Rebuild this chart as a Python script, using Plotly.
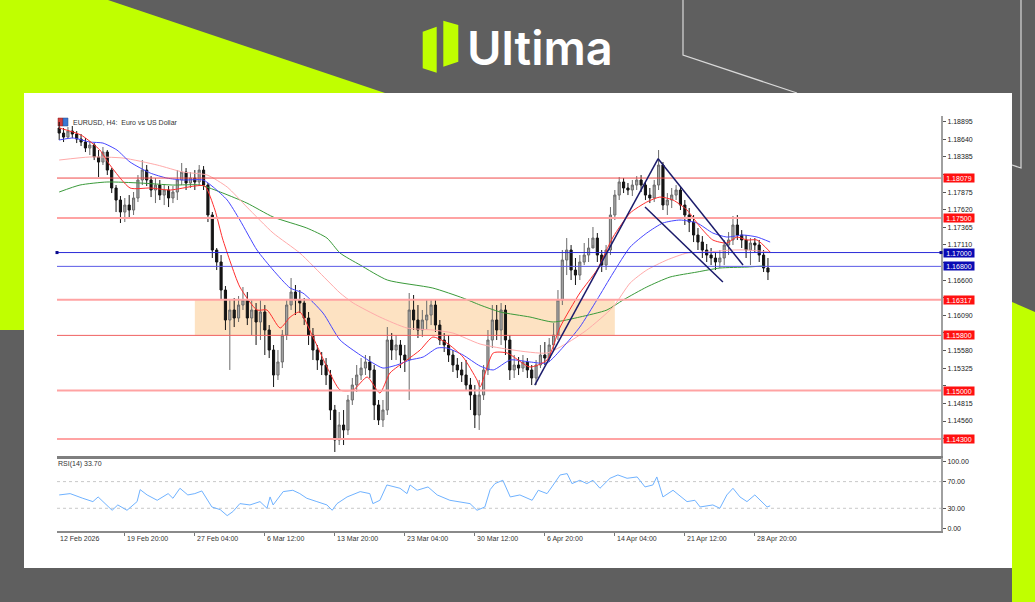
import plotly.graph_objects as go

# ---------------- data (EURUSD H4, shown as 8-hour candles) ----------------
opens = [1.18804, 1.18731, 1.18673, 1.18760, 1.18717, 1.18644, 1.18601, 1.18514, 1.18558, 1.18384,
         1.18311, 1.18456, 1.18195, 1.17935, 1.17761, 1.17587, 1.17688, 1.17616, 1.17790, 1.18051,
         1.18195, 1.18051, 1.17906, 1.17978, 1.17833, 1.17906, 1.17790, 1.17877, 1.18051, 1.18166,
         1.18007, 1.18079, 1.18022, 1.18195, 1.17978, 1.17544, 1.17037, 1.16863, 1.16457, 1.16023,
         1.16168, 1.16052, 1.16240, 1.16313, 1.16052, 1.16168, 1.15994, 1.16139, 1.15878, 1.15588,
         1.15226, 1.15415, 1.15805, 1.16240, 1.16428, 1.16313, 1.16269, 1.16052, 1.15805, 1.15588,
         1.15444, 1.15371, 1.15226, 1.14719, 1.14285, 1.14502, 1.14430, 1.14864, 1.15081, 1.15226,
         1.15327, 1.15415, 1.15299, 1.14792, 1.14574, 1.14719, 1.15733, 1.15588, 1.15661, 1.15516,
         1.15444, 1.16168, 1.16023, 1.15878, 1.16023, 1.16095, 1.16240, 1.15950, 1.15733, 1.15661,
         1.15516, 1.15371, 1.15299, 1.15226, 1.15081, 1.14937, 1.14647, 1.14937, 1.15299, 1.15733,
         1.16023, 1.15878, 1.16168, 1.15733, 1.15299, 1.15371, 1.15327, 1.15415, 1.15299, 1.15183,
         1.15371, 1.15516, 1.15472, 1.15661, 1.15805, 1.16313, 1.16892, 1.17037, 1.16747, 1.16674,
         1.16863, 1.16964, 1.17066, 1.17210, 1.16964, 1.16819, 1.17037, 1.17544, 1.17833, 1.18022,
         1.17935, 1.17906, 1.17978, 1.18051, 1.17978, 1.17833, 1.17790, 1.17978, 1.18268, 1.17688,
         1.17761, 1.17833, 1.17906, 1.17688, 1.17544, 1.17442, 1.17254, 1.17152, 1.17037, 1.16964,
         1.16921, 1.16863, 1.16921, 1.17109, 1.17182, 1.17399, 1.17254, 1.17182, 1.17037, 1.17138,
         1.17109, 1.16964, 1.16776]
closes = [1.18731, 1.18673, 1.18760, 1.18717, 1.18644, 1.18601, 1.18514, 1.18558, 1.18384, 1.18311,
          1.18456, 1.18195, 1.17935, 1.17761, 1.17587, 1.17688, 1.17616, 1.17790, 1.18051, 1.18195,
          1.18051, 1.17906, 1.17978, 1.17833, 1.17906, 1.17790, 1.17877, 1.18051, 1.18166, 1.18007,
          1.18079, 1.18022, 1.18195, 1.17978, 1.17544, 1.17037, 1.16863, 1.16457, 1.16023, 1.16168,
          1.16052, 1.16240, 1.16313, 1.16052, 1.16168, 1.15994, 1.16139, 1.15878, 1.15588, 1.15226,
          1.15415, 1.15805, 1.16240, 1.16428, 1.16313, 1.16269, 1.16052, 1.15805, 1.15588, 1.15444,
          1.15371, 1.15226, 1.14719, 1.14285, 1.14502, 1.14430, 1.14864, 1.15081, 1.15226, 1.15327,
          1.15415, 1.15299, 1.14792, 1.14574, 1.14719, 1.15733, 1.15588, 1.15661, 1.15516, 1.15444,
          1.16168, 1.16023, 1.15878, 1.16023, 1.16095, 1.16240, 1.15950, 1.15733, 1.15661, 1.15516,
          1.15371, 1.15299, 1.15226, 1.15081, 1.14937, 1.14647, 1.14937, 1.15299, 1.15733, 1.16023,
          1.15878, 1.16168, 1.15733, 1.15299, 1.15371, 1.15327, 1.15415, 1.15299, 1.15183, 1.15371,
          1.15516, 1.15472, 1.15661, 1.15805, 1.16313, 1.16892, 1.17037, 1.16747, 1.16674, 1.16863,
          1.16964, 1.17066, 1.17210, 1.16964, 1.16819, 1.17037, 1.17544, 1.17833, 1.18022, 1.17935,
          1.17906, 1.17978, 1.18051, 1.17978, 1.17833, 1.17790, 1.17978, 1.18268, 1.17688, 1.17761,
          1.17833, 1.17906, 1.17688, 1.17544, 1.17442, 1.17254, 1.17152, 1.17037, 1.16964, 1.16921,
          1.16863, 1.16921, 1.17109, 1.17182, 1.17399, 1.17254, 1.17182, 1.17037, 1.17138, 1.17109,
          1.16964, 1.16776, 1.16718]
highs = [1.18891, 1.18804, 1.18818, 1.18833, 1.18760, 1.18717, 1.18659, 1.18615, 1.18586, 1.18485,
         1.18529, 1.18485, 1.18224, 1.17978, 1.17819, 1.17790, 1.17833, 1.17877, 1.18123, 1.18340,
         1.18268, 1.18108, 1.18079, 1.18051, 1.17993, 1.17964, 1.17964, 1.18195, 1.18297, 1.18224,
         1.18166, 1.18195, 1.18268, 1.18253, 1.18007, 1.17587, 1.17066, 1.16964, 1.16515, 1.16313,
         1.16341, 1.16370, 1.16501, 1.16428, 1.16313, 1.16269, 1.16313, 1.16240, 1.15950, 1.15661,
         1.15588, 1.15878, 1.16313, 1.16631, 1.16530, 1.16457, 1.16341, 1.16139, 1.15907, 1.15661,
         1.15559, 1.15472, 1.15299, 1.14792, 1.14690, 1.14719, 1.14937, 1.15183, 1.15371, 1.15472,
         1.15516, 1.15501, 1.15371, 1.14864, 1.14864, 1.15921, 1.15834, 1.15805, 1.15733, 1.15661,
         1.16414, 1.16385, 1.16240, 1.16168, 1.16313, 1.16313, 1.16313, 1.16023, 1.15834, 1.15805,
         1.15588, 1.15472, 1.15415, 1.15444, 1.15183, 1.15081, 1.15154, 1.15371, 1.15878, 1.16240,
         1.16240, 1.16269, 1.16240, 1.15805, 1.15516, 1.15487, 1.15516, 1.15472, 1.15371, 1.15444,
         1.15661, 1.15704, 1.15762, 1.15979, 1.16457, 1.17037, 1.17210, 1.17109, 1.16921, 1.16964,
         1.17138, 1.17210, 1.17370, 1.17283, 1.17037, 1.17109, 1.17659, 1.17906, 1.18094, 1.18079,
         1.18007, 1.18051, 1.18108, 1.18123, 1.18022, 1.17935, 1.18051, 1.18485, 1.18311, 1.17862,
         1.17935, 1.17978, 1.17949, 1.17761, 1.17645, 1.17544, 1.17355, 1.17239, 1.17124, 1.17066,
         1.17008, 1.17037, 1.17182, 1.17297, 1.17529, 1.17544, 1.17326, 1.17254, 1.17210, 1.17210,
         1.17182, 1.17037, 1.16921]
lows = [1.18630, 1.18601, 1.18644, 1.18659, 1.18586, 1.18543, 1.18456, 1.18413, 1.18340, 1.18094,
        1.18268, 1.18123, 1.17862, 1.17587, 1.17428, 1.17442, 1.17500, 1.17544, 1.17732, 1.17978,
        1.17964, 1.17804, 1.17717, 1.17761, 1.17688, 1.17659, 1.17717, 1.17761, 1.17978, 1.17906,
        1.17935, 1.17906, 1.17978, 1.17906, 1.17442, 1.16921, 1.16747, 1.16313, 1.15878, 1.15299,
        1.15921, 1.15994, 1.16168, 1.15950, 1.15805, 1.15661, 1.15733, 1.15516, 1.15472, 1.15052,
        1.15154, 1.15327, 1.15733, 1.16168, 1.16095, 1.16124, 1.15950, 1.15661, 1.15444, 1.15299,
        1.15226, 1.15081, 1.14574, 1.14111, 1.14212, 1.14212, 1.14357, 1.14792, 1.14980, 1.15154,
        1.15226, 1.15183, 1.14574, 1.14502, 1.14473, 1.14647, 1.15444, 1.15444, 1.15327, 1.15270,
        1.14864, 1.15878, 1.15762, 1.15776, 1.15878, 1.15950, 1.15849, 1.15661, 1.15559, 1.15415,
        1.15270, 1.15183, 1.15125, 1.15009, 1.14719, 1.14458, 1.14430, 1.14864, 1.15226, 1.15617,
        1.15733, 1.15661, 1.15516, 1.15154, 1.15183, 1.15226, 1.15270, 1.15183, 1.15081, 1.15081,
        1.15327, 1.15371, 1.15415, 1.15588, 1.15733, 1.16240, 1.16674, 1.16602, 1.16530, 1.16602,
        1.16819, 1.16863, 1.17109, 1.16863, 1.16718, 1.16747, 1.16964, 1.17471, 1.17761, 1.17862,
        1.17833, 1.17819, 1.17906, 1.17877, 1.17761, 1.17717, 1.17732, 1.17906, 1.17616, 1.17544,
        1.17645, 1.17761, 1.17616, 1.17399, 1.17297, 1.17152, 1.17037, 1.16921, 1.16863, 1.16819,
        1.16747, 1.16776, 1.16819, 1.16964, 1.17109, 1.17182, 1.17066, 1.16921, 1.16819, 1.17008,
        1.16863, 1.16718, 1.16602]

# moving averages (read at anchor candles)
ma_red_x = [0, 5, 9.3, 11.6, 16.2, 20.8, 25.4, 31, 33.3, 35.6, 37.3, 39.2, 41.3, 45.2, 47.5, 50.5,
            52.8, 55, 58, 61.2, 64.2, 67.2, 70.4, 73.3, 75.6, 79.5, 82.5, 85.4, 88.6, 92.3, 95.5,
            96.2, 99.2, 102.4, 107.6, 111.5, 114.5, 119, 122.9, 126.6, 130.5, 134.3, 137.3, 140.3,
            143.5, 146.5, 149.4, 152.6, 154.9, 157.2, 159.5, 162.5]
ma_red = [1.18804, 1.18702, 1.18485, 1.18268, 1.17935, 1.17935, 1.17906, 1.17964, 1.17964, 1.17616,
          1.17210, 1.16848, 1.16501, 1.16168, 1.16168, 1.15907, 1.16066, 1.16139, 1.15776, 1.15342,
          1.15009, 1.15009, 1.15197, 1.14965, 1.15255, 1.15444, 1.15588, 1.15776, 1.15689, 1.15487,
          1.15154, 1.15052, 1.15545, 1.15545, 1.15342, 1.15444, 1.15921, 1.16414, 1.16747, 1.17225,
          1.17573, 1.17732, 1.17804, 1.17761, 1.17616, 1.17370, 1.17182, 1.17138, 1.17225, 1.17182,
          1.17182, 1.17008]
ma_blue_x = [0, 3.2, 7, 10, 13.2, 16.2, 20.8, 24.6, 28.3, 32.9, 35.2, 38.4, 41.3, 45.2, 48.9, 52.8,
             55.7, 60.3, 64.2, 68.8, 71.7, 74, 77.2, 80.2, 83.2, 86.4, 88.6, 92.3, 96.2, 99.2, 103.1,
             107.6, 111.5, 115.2, 119, 122.9, 126.6, 130.5, 134.3, 138, 141.9, 145.8, 149.4, 152.6,
             156.3, 159.5, 162.5]
ma_blue = [1.18630, 1.18659, 1.18601, 1.18586, 1.18485, 1.18311, 1.18152, 1.18079, 1.18051, 1.18051,
           1.17949, 1.17761, 1.17471, 1.17037, 1.16747, 1.16486, 1.16414, 1.16124, 1.15733, 1.15516,
           1.15400, 1.15327, 1.15371, 1.15444, 1.15487, 1.15617, 1.15617, 1.15516, 1.15356, 1.15299,
           1.15444, 1.15415, 1.15400, 1.15632, 1.15921, 1.16313, 1.16703, 1.17080, 1.17283, 1.17428,
           1.17471, 1.17428, 1.17283, 1.17225, 1.17254, 1.17225, 1.17152]
ma_pink_x = [0, 7, 14.6, 22.4, 28.3, 33.8, 38.4, 42.9, 48.9, 55, 61.2, 64.2, 67.2, 73.3, 79.5, 85.4,
             90, 96.2, 103.7, 111.5, 116.1, 120.6, 126.6, 130.5, 134.3, 138.9, 143.5, 148.1, 154,
             157.2, 162.5]
ma_pink = [1.18340, 1.18384, 1.18369, 1.18268, 1.18166, 1.18123, 1.17949, 1.17659, 1.17283, 1.16993,
           1.16602, 1.16414, 1.16269, 1.16066, 1.15907, 1.15878, 1.15834, 1.15675, 1.15588, 1.15545,
           1.15689, 1.15878, 1.16211, 1.16559, 1.16747, 1.16892, 1.16993, 1.17008, 1.17037, 1.17037,
           1.17008]
ma_green_x = [0, 4.75, 10.9, 18.5, 26, 32.2, 37.4, 42.9, 48.9, 56.6, 61.2, 64.2, 68.8, 75, 85.4,
              92.3, 96.2, 100.8, 107.6, 112.9, 119, 125.2, 128.9, 134.3, 139.6, 145.8, 151, 157.2,
              160.9]
ma_green = [1.17877, 1.17978, 1.18022, 1.18007, 1.17978, 1.17978, 1.17862, 1.17717, 1.17515, 1.17355,
            1.17210, 1.16993, 1.16819, 1.16602, 1.16486, 1.16341, 1.16240, 1.16139, 1.16066, 1.15994,
            1.16066, 1.16168, 1.16313, 1.16501, 1.16645, 1.16718, 1.16776, 1.16790, 1.16805]

# RSI(14)
rsi_x = [0, 2.5, 5.4, 7.7, 8.9, 12.1, 13.4, 15.5, 17.8, 18.5, 20.1, 22.4, 24.9, 26, 27.6, 29.4, 31,
         32.6, 34.9, 36.8, 38.4, 39.7, 41.3, 43.6, 45.9, 47.5, 48.2, 48.9, 51.2, 53.4, 55, 56.6, 58.9,
         61.2, 62.4, 63.5, 65.8, 68.8, 71, 71.7, 73.3, 74.9, 77.9, 79.5, 80.2, 81.8, 84.3, 86.4, 89.3,
         91.6, 93.9, 95.5, 97.3, 98.5, 99.6, 101.4, 103.1, 105.3, 108.1, 109.5, 111.5, 112.6, 114.5,
         116.1, 117.2, 119, 120.6, 122, 123.6, 125.9, 127.7, 129.8, 132.1, 133.9, 135.7, 136.6, 138,
         140.3, 143.5, 145.3, 146.5, 149.4, 151, 152.6, 154, 155.6, 157.2, 159, 160.2, 161.8, 162.5]
rsi = [50, 52, 45, 40, 47, 27, 35, 27, 40, 58, 50, 42, 52, 45, 60, 50, 52, 56, 32, 28, 19, 25, 37, 35,
       40, 30, 47, 35, 55, 57, 52, 45, 40, 35, 27, 37, 47, 55, 52, 37, 42, 65, 60, 52, 65, 57, 62, 50,
       42, 40, 37, 27, 32, 58, 67, 72, 47, 50, 42, 57, 52, 62, 80, 82, 67, 72, 67, 72, 60, 75, 80, 75,
       77, 62, 65, 77, 47, 57, 40, 42, 32, 35, 30, 50, 60, 47, 40, 50, 42, 32, 33.7]

# axes / annotations content
price_ticks = [1.18895, 1.18640, 1.18385, 1.18130, 1.17875, 1.17620, 1.17365, 1.17110, 1.16855,
               1.16600, 1.16345, 1.16090, 1.15835, 1.15580, 1.15325, 1.15070, 1.14815, 1.14560,
               1.14305]
time_labels = ["12 Feb 2026", "19 Feb 20:00", "27 Feb 04:00", "6 Mar 12:00", "13 Mar 20:00",
               "23 Mar 04:00", "30 Mar 12:00", "6 Apr 20:00", "14 Apr 04:00", "21 Apr 12:00",
               "28 Apr 20:00"]
time_pos = [-0.5, 15, 31, 47, 63, 79, 95, 111, 127, 143, 159]
levels = [1.18079, 1.17500, 1.17000, 1.16800, 1.16317, 1.15800, 1.15000, 1.14300]
zone = (31, 127, 1.15800, 1.16317)
trend_lines = [((108.7, 1.15080), (136.9, 1.18360)),
               ((136.9, 1.18360), (156.3, 1.16819)),
               ((133.9, 1.17659), (151.7, 1.16573))]

# ---------------- layout helpers ----------------
W, H = 1035, 602
FONT = "Liberation Sans, Arial, sans-serif"
LIME = "#c0ff00"
GRAY = "#5f5f5f"


def PX(x):
    return x / W


def PY(y):
    return 1 - y / H


def poly(pts, close=True):
    s = "M " + " L ".join(f"{PX(x):.5f},{PY(y):.5f}" for x, y in pts)
    return s + (" Z" if close else "")


shapes = []
# background decoration
shapes.append(dict(type="path", xref="paper", yref="paper", layer="below",
                   path=poly([(0, 0), (108, 0), (385, 93), (24, 93), (24, 330), (0, 330)]),
                   fillcolor=LIME, line=dict(width=0)))
shapes.append(dict(type="path", xref="paper", yref="paper", layer="below",
                   path=poly([(1012, 302), (1035, 312), (1035, 602), (1012, 602)]),
                   fillcolor=LIME, line=dict(width=0)))
shapes.append(dict(type="path", xref="paper", yref="paper", layer="below",
                   path=poly([(683, 0), (683, 55), (797, 93)], close=False),
                   line=dict(color="#d9d9d9", width=1.2)))
shapes.append(dict(type="path", xref="paper", yref="paper", layer="below",
                   path=poly([(1021, 0), (1021, 168), (1012, 165)], close=False),
                   line=dict(color="#d9d9d9", width=1.2)))
# white chart panel
shapes.append(dict(type="rect", xref="paper", yref="paper", layer="below",
                   x0=PX(24), x1=PX(1012), y0=PY(568), y1=PY(93),
                   fillcolor="white", line=dict(width=0)))
# logo mark
shapes.append(dict(type="path", xref="paper", yref="paper", layer="below",
                   path=poly([(422.7, 31.7), (436.7, 26.7), (436.7, 72.7), (422.7, 68.3)]),
                   fillcolor=LIME, line=dict(width=0)))
shapes.append(dict(type="path", xref="paper", yref="paper", layer="below",
                   path=poly([(443.3, 20.7), (458.3, 25), (458.3, 61.7), (443.3, 66.7)]),
                   fillcolor=LIME, line=dict(width=0)))
# symbol icon
shapes.append(dict(type="rect", xref="paper", yref="paper", layer="below",
                   x0=PX(58), x1=PX(63), y0=PY(126), y1=PY(118),
                   fillcolor="#d23c3c", line=dict(color="#8a2020", width=0.5)))
shapes.append(dict(type="rect", xref="paper", yref="paper", layer="below",
                   x0=PX(63), x1=PX(68), y0=PY(126), y1=PY(118),
                   fillcolor="#3c78d2", line=dict(color="#204a8a", width=0.5)))

# supply/demand zone
shapes.append(dict(type="rect", xref="x", yref="y", layer="below",
                   x0=zone[0], x1=zone[1], y0=zone[2], y1=zone[3],
                   fillcolor="#fde2c2", line=dict(width=0)))

level_style = {
    1.18079: ("#f04a4a", 1, "#ff1010"),
    1.17500: ("#ffa3a3", 2, "#ff1010"),
    1.17000: ("#2a2ad8", 1, "#0a0ab4"),
    1.16800: ("#5a5ae6", 1, "#0a0ab4"),
    1.16317: ("#ffa3a3", 2, "#ff1010"),
    1.15800: ("#f06060", 1, "#ff1010"),
    1.15000: ("#ffa3a3", 2, "#ff1010"),
    1.14300: ("#ffa3a3", 2, "#ff1010"),
}
annotations = []
for lv in levels:
    lc, lw, bc = level_style[lv]
    shapes.append(dict(type="line", xref="paper", yref="y", layer="above",
                       x0=PX(57), x1=PX(941), y0=lv, y1=lv, line=dict(color=lc, width=lw)))
    annotations.append(dict(xref="paper", yref="y", x=PX(943), y=lv, xanchor="left",
                            yanchor="middle", text=f"{lv:.5f}", showarrow=False,
                            bgcolor=bc, width=30, height=8, borderpad=0, align="center",
                            font=dict(family=FONT, size=7, color="white")))
# small anchor squares of the 1.17000 line
for xx in (57, 941):
    shapes.append(dict(type="rect", xref="paper", yref="y", layer="above",
                       x0=PX(xx - 1.5), x1=PX(xx + 1.5), y0=1.17000 - 0.00022, y1=1.17000 + 0.00022,
                       fillcolor="#0a0a8c", line=dict(width=0)))

for (x0, y0), (x1, y1) in trend_lines:
    shapes.append(dict(type="line", xref="x", yref="y", layer="above",
                       x0=x0, y0=y0, x1=x1, y1=y1, line=dict(color="#1b1b6b", width=1.5)))

# RSI levels
for lv in (30, 70):
    shapes.append(dict(type="line", xref="paper", yref="y2", layer="below",
                       x0=PX(57), x1=PX(941), y0=lv, y1=lv,
                       line=dict(color="#c8c8c8", width=1, dash="dot")))

# ---------------- traces ----------------
idx = list(range(len(closes)))
fig = go.Figure()
fig.add_trace(go.Candlestick(
    x=idx, open=opens, high=highs, low=lows, close=closes, xaxis="x", yaxis="y",
    whiskerwidth=0,
    increasing=dict(line=dict(color="#6a6a6a", width=1), fillcolor="#a8a8a8"),
    decreasing=dict(line=dict(color="#141414", width=1), fillcolor="#141414"),
    hoverinfo="skip"))
for xs, ys, col in [(ma_green_x, ma_green, "#3a9a3a"), (ma_pink_x, ma_pink, "#ffaaaa"),
                    (ma_blue_x, ma_blue, "#4646ff"), (ma_red_x, ma_red, "#ff2e2e")]:
    fig.add_trace(go.Scatter(x=xs, y=ys, mode="lines", xaxis="x", yaxis="y",
                             line=dict(color=col, width=1, shape="spline", smoothing=0.6),
                             hoverinfo="skip"))
fig.add_trace(go.Scatter(x=rsi_x, y=rsi, mode="lines", xaxis="x2", yaxis="y2",
                         line=dict(color="#6fb2ff", width=1), hoverinfo="skip"))

# ---------------- texts ----------------
annotations.append(dict(xref="paper", yref="paper", x=PX(71), y=PY(122), xanchor="left",
                        yanchor="middle", showarrow=False,
                        text="EURUSD,\u00a0H4:\u00a0\u00a0Euro vs US Dollar",
                        font=dict(family=FONT, size=7, color="#333333")))
annotations.append(dict(xref="paper", yref="paper", x=PX(56), y=PY(463.5), xanchor="left",
                        yanchor="middle", showarrow=False, text="RSI(14) 33.70",
                        font=dict(family=FONT, size=7, color="#333333")))
for lab, pos in zip(time_labels, time_pos):
    annotations.append(dict(xref="x2", yref="paper", x=pos + 0.15, y=PY(538.5), xanchor="left",
                            yanchor="middle", showarrow=False, text=lab,
                            font=dict(family=FONT, size=7, color="#333333")))
annotations.append(dict(xref="paper", yref="paper", x=PX(465), y=PY(47.5), xanchor="left",
                        yanchor="middle", showarrow=False, text="Ultima",
                        font=dict(family="Inter, Lato, sans-serif", size=47, color="white",
                                  weight=600)))

# tick labels that sit under a level marker are hidden (as on the terminal)
tick_text = [("" if any(abs(v - lv) < 0.0008 for lv in levels) else f"{v:.5f}")
             for v in price_ticks]

tickfont = dict(family=FONT, size=7, color="#222222")
fig.update_layout(
    width=W, height=H, margin=dict(l=0, r=0, t=0, b=0),
    paper_bgcolor=GRAY, plot_bgcolor="rgba(0,0,0,0)", showlegend=False,
    shapes=shapes, annotations=annotations,
    xaxis=dict(domain=[PX(57), PX(941)], range=[-0.5, 201.55], anchor="y",
               showgrid=False, zeroline=False, showticklabels=False, ticks="",
               showline=True, linecolor="#7f7f7f", linewidth=3,
               rangeslider=dict(visible=False), fixedrange=True),
    yaxis=dict(domain=[PY(456), PY(116)], range=[1.14053, 1.18978], anchor="x", side="right",
               tickvals=price_ticks, ticktext=tick_text,
               ticks="outside", ticklen=3, tickcolor="#555555", tickfont=tickfont,
               showline=True, linecolor="#a0a0a0", linewidth=2,
               showgrid=False, zeroline=False, fixedrange=True),
    xaxis2=dict(domain=[PX(57), PX(941)], matches="x", anchor="y2",
                showgrid=False, zeroline=False, showticklabels=False,
                tickvals=time_pos[1:], ticks="outside", ticklen=3, tickcolor="#777777",
                showline=True, linecolor="#8a8a8a", linewidth=2),
    yaxis2=dict(domain=[PY(531), PY(458)], range=[-4.05, 105.4], anchor="x2", side="right",
                tickvals=[0, 30, 70, 100], ticktext=["0.00", "30.00", "70.00", "100.00"],
                ticks="outside", ticklen=3, tickcolor="#555555", tickfont=tickfont,
                showline=True, linecolor="#a0a0a0", linewidth=2,
                showgrid=False, zeroline=False, fixedrange=True),
)

fig.write_html("out.html")
